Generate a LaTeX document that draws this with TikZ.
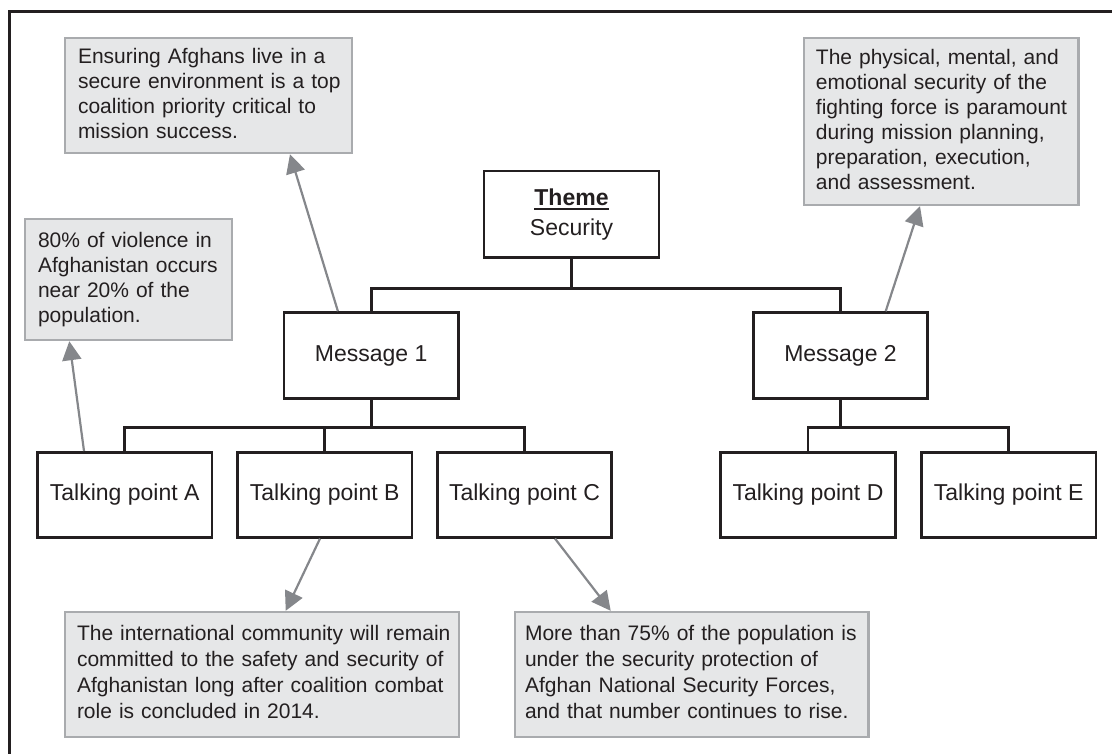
\documentclass[tikz,border=0pt]{standalone}
\usepackage{fontspec}
\setmainfont{Liberation Sans}
\usetikzlibrary{arrows.meta}
\definecolor{ink}{HTML}{231F20}
\definecolor{gfill}{HTML}{E6E7E8}
\definecolor{gline}{HTML}{A9ABAE}
\definecolor{agray}{HTML}{85878B}
\newcommand\thmul[1]{\leavevmode\vtop{\hbox{#1}\kern2.6pt\hrule height 2pt}}
\newcommand\notelines[1]{\begin{tabular}{@{}l@{}}#1\end{tabular}}
\tikzset{
  tbox/.style={draw=ink, line width=2.6pt, fill=white, minimum width=174.5pt,
    minimum height=86pt, inner sep=0pt, text=ink, font=\fontsize{23}{28}\selectfont},
  gbox/.style={draw=gline, fill=gfill, line width=2.4pt, inner ysep=0pt, text=ink,
    align=left, font=\fontsize{21}{25}\selectfont},
  conn/.style={draw=ink, line width=2.6pt},
  arr/.style={draw=agray, line width=2.2pt, -{Triangle[length=19pt,width=19pt]}},
  frame/.style={draw=ink, line width=2.8pt}
}
\begin{document}
\begin{tikzpicture}[x=1pt,y=-1pt]
\useasboundingbox (0,0) rectangle (1112,753);
\draw[frame] (9.7,770) -- (9.7,11.3) -- (1130,11.3);

% main tree boxes
\node[tbox, minimum width=175pt, minimum height=86.3pt, align=center,
      font=\fontsize{23}{30}\selectfont] (T) at (571.5,214.2)
      {\thmul{\textbf{Theme}}\\Security};
\node[tbox] (M1) at (371.2,355.5) {Message 1};
\node[tbox] (M2) at (840.5,355.5) {Message 2};
\node[tbox, minimum height=85pt] (TA) at (124.7,494.8) {Talking point A};
\node[tbox, minimum height=85pt] (TB) at (324.7,494.8) {Talking point B};
\node[tbox, minimum height=85pt] (TC) at (524.5,494.8) {Talking point C};
\node[tbox, minimum height=85pt] (TD) at (808,494.8) {Talking point D};
\node[tbox, minimum height=85pt] (TE) at (1008.7,494.8) {Talking point E};

% gray note boxes
\node[gbox, minimum height=115pt, text width=261pt, inner xsep=13pt] (G1) at (208.5,95.5)
  {\notelines{Ensuring Afghans live in a\\secure environment is a top\\coalition priority critical to\\mission success.}};
\node[gbox, minimum height=121pt, text width=181pt, inner xsep=13pt] (G2) at (128.5,279.5)
  {\notelines{80\% of violence in\\Afghanistan occurs\\near 20\% of the\\population.}};
\node[gbox, minimum height=167pt, text width=250.7pt, inner xsep=12pt] (G3) at (941.3,121.5)
  {\notelines{The physical, mental, and\\emotional security of the\\fighting force is paramount\\during mission planning,\\preparation, execution,\\and assessment.}};
\node[gbox, minimum height=125pt, text width=370pt, inner xsep=12pt,
      font=\fontsize{21}{26}\selectfont] (G4) at (262,674.5)
  {\notelines{The international community will remain\\committed to the safety and security of\\Afghanistan long after coalition combat\\role is concluded in 2014.}};
\node[gbox, minimum height=125pt, text width=333.3pt, inner xsep=10pt,
      font=\fontsize{21}{26}\selectfont] (G5) at (691.7,674.5)
  {\notelines{More than 75\% of the population is\\under the security protection of\\Afghan National Security Forces,\\and that number continues to rise.}};

% tree connectors
\coordinate (b1) at (571.5,288.3);
\coordinate (b2) at (371.2,427.7);
\coordinate (b3) at (840.5,427.7);
\draw[conn] (T.south) -- (b1);
\draw[conn] (M1.north) |- (b1) -| (M2.north);
\draw[conn] (M1.south) -- (b2);
\draw[conn] (TA.north) |- (b2) -| (TC.north);
\draw[conn] (TB.north) -- (TB.north |- b2);
\draw[conn] (M2.south) -- (b3);
\draw[conn] (TD.north) |- (b3) -| (TE.north);

% note arrows
\draw[arr] ([xshift=-40.7pt]TA.north) -- ([xshift=-59.2pt]G2.south);
\draw[arr] ([xshift=-33.3pt]M1.north) -- ([xshift=81.5pt]G1.south);
\draw[arr] ([xshift=45.2pt]M2.north) -- ([xshift=-21.3pt]G3.south);
\draw[arr] ([xshift=-4.7pt]TB.south) -- ([xshift=23.7pt]G4.north);
\draw[arr] ([xshift=30.5pt]TC.south) -- ([xshift=-81pt]G5.north);
\end{tikzpicture}
\end{document}
